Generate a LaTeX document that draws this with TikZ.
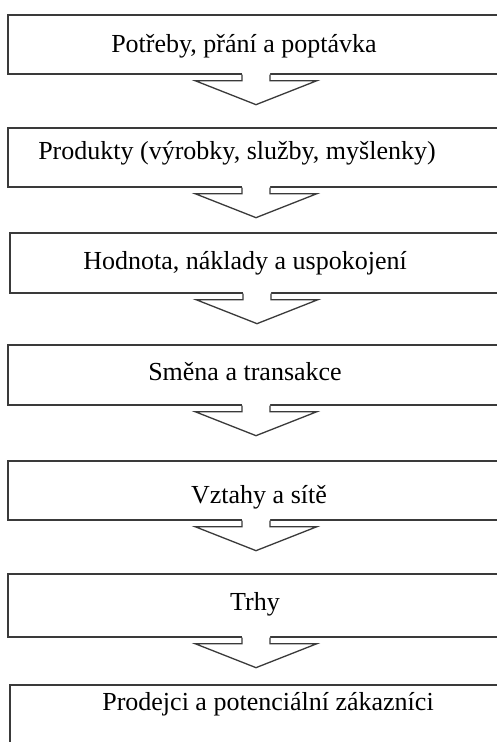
\documentclass[tikz,border=0pt]{standalone}
\usepackage{fontspec}
\setmainfont{Liberation Serif}
\usetikzlibrary{calc}
\definecolor{edge}{HTML}{3A3A3A}
\tikzset{
  box/.style={draw=edge, line width=1.3pt, fill=white, rectangle, inner sep=0pt},
  lbl/.style={anchor=base, inner sep=0pt, font=\fontsize{26}{30}\selectfont, text=black},
  blockarrow/.style={draw=edge, line width=1.3pt, line join=miter},
}
\newcommand{\mkbox}[4]{% name, left, top, bottom
  \node[box, minimum width={504pt-#2}, minimum height={#4pt-#3pt}] (#1)
    at ({(#2pt+504pt)/2}, {-(#3pt+#4pt)/2}) {};
}
\newcommand{\mkarrow}[2]{% from box, to box
  \fill[white] ($(#1.south)+(-14pt,2pt)$) -- ($(#1.south)+(14pt,2pt)$) --
    ($(#1.south)+(14pt,-6pt)$) -- ($(#1.south)+(61pt,-6pt)$) --
    ($(#1.south)+(0pt,-30pt)$) -- ($(#1.south)+(-61pt,-6pt)$) --
    ($(#1.south)+(-14pt,-6pt)$) -- cycle;
  \draw[blockarrow] ($(#1.south)+(-14pt,0pt)$) -- ($(#1.south)+(-14pt,-6pt)$) --
    ($(#1.south)+(-61pt,-6pt)$) -- ($(#1.south)+(0pt,-30pt)$) coordinate (tip#1) --
    ($(#1.south)+(61pt,-6pt)$) -- ($(#1.south)+(14pt,-6pt)$) --
    ($(#1.south)+(14pt,0pt)$);
}
\begin{document}
\begin{tikzpicture}[x=1pt,y=1pt]
\useasboundingbox[fill=white] (0,0) rectangle (496,-742);
\mkbox{b1}{8}{15}{74}
\mkbox{b2}{8}{128}{187}
\mkbox{b3}{10}{233}{293}
\mkbox{b4}{8}{345}{405}
\mkbox{b5}{8}{461}{520}
\mkbox{b6}{8}{574}{637}
\mkbox{b7}{10}{685}{770}
\node[lbl] (t1) at (244,-52) {Potřeby, přání a poptávka};
\node[lbl] (t2) at (237,-159) {Produkty (výrobky, služby, myšlenky)};
\node[lbl] (t3) at (245,-269) {Hodnota, náklady a uspokojení};
\node[lbl] (t4) at (245,-380) {Směna a transakce};
\node[lbl] (t5) at (259,-503) {Vztahy a sítě};
\node[lbl] (t6) at (255,-610) {Trhy};
\node[lbl] (t7) at (268,-710) {Prodejci a potenciální zákazníci};
\mkarrow{b1}{b2}
\mkarrow{b2}{b3}
\mkarrow{b3}{b4}
\mkarrow{b4}{b5}
\mkarrow{b5}{b6}
\mkarrow{b6}{b7}
\end{tikzpicture}
\end{document}
